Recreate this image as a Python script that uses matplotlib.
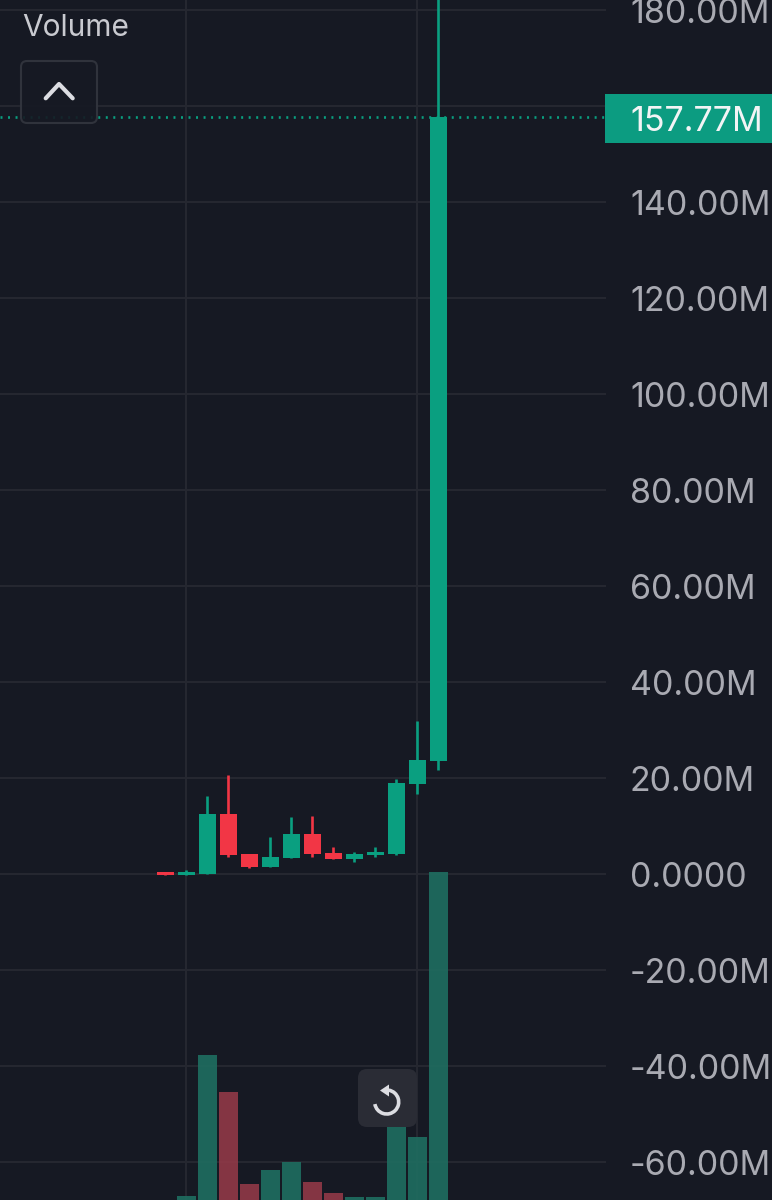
import numpy as np
import matplotlib
matplotlib.use('Agg')
import matplotlib.pyplot as plt
from matplotlib.patches import FancyBboxPatch, Rectangle, Arc, Polygon

plt.rcParams['font.family'] = ['Inter', 'DejaVu Sans']

# Velas (millones)
opens = [0.35, -0.15, 0.0, 12.5, 4.2, 1.5, 3.4, 8.3, 4.4, 3.05, 3.95, 4.2, 18.8, 23.5]
closes = [-0.15, 0.4, 12.5, 4.0, 1.5, 3.5, 8.3, 4.2, 3.0, 4.2, 4.6, 19.0, 23.7, 157.77]
highs = [0.35, 0.7, 16.3, 20.6, 4.2, 7.6, 11.8, 12.0, 5.6, 4.5, 5.6, 19.8, 31.8, 200.0]
lows = [-0.15, -0.15, 0.0, 3.6, 1.3, 1.5, 3.4, 3.5, 3.0, 2.5, 3.5, 3.9, 16.7, 21.6]

# Volumen (unidades relativas, la base queda fuera de la imagen)
volumes = [0.5, 2.5, 45.0, 33.8, 5.9, 10.3, 12.7, 6.6, 3.2, 2.2, 2.2, 30.0, 20.2, 100.0]

tick_values = [180, 140, 120, 100, 80, 60, 40, 20, 0, -20, -40, -60]
tick_labels = ['180.00M', '140.00M', '120.00M', '100.00M', '80.00M', '60.00M', '40.00M',
               '20.00M', '0.0000', '-20.00M', '-40.00M', '-60.00M']
grid_values = [180, 160, 140, 120, 100, 80, 60, 40, 20, 0, -20, -40, -60]
vgrid_index = [1, 12]
last_price = 157.77

bg = '#161923'
grid_col = '#262831'
green = '#0a9f80'
red = '#f23645'
vol_green = '#1f7062'
vol_red = '#943a48'
label_col = '#a9aab2'
label_size = 24.5

fig = plt.figure(figsize=(7.72, 12), dpi=100, facecolor=bg)
ax = fig.add_axes([0, 0, 1, 1], facecolor=bg)
ax.set_xlim(-7.871, 28.89)
ax.set_ylim(-67.95, 182.05)
ax.axis('off')

x = np.arange(len(opens))
colors = [green if c >= o else red for o, c in zip(opens, closes)]

# Rejilla
trans = ax.get_yaxis_transform()
for v in grid_values:
    ax.plot([0, 605 / 772], [v, v], transform=trans, color=grid_col, lw=1.4, zorder=1)
for i in vgrid_index:
    ax.axvline(i, color=grid_col, lw=1.4, zorder=1)

# Línea de último precio
ax.plot([0, 605 / 772], [last_price, last_price], transform=trans, color=green, lw=1.9,
        linestyle=(0, (0.75, 2.1)), zorder=2)

# Velas
ax.vlines(x, lows, highs, color=colors, lw=1.9, zorder=3)
ax.bar(x, np.abs(np.array(closes) - np.array(opens)), bottom=np.minimum(opens, closes),
       width=0.824, color=colors, zorder=4)

# Volumen en eje propio
ax2 = ax.twinx()
ax2.set_position([0, 0, 1, 1])
ax2.set_ylim(1.2, 362.6)
ax2.axis('off')
vol_colors = [vol_green if c >= o else vol_red for o, c in zip(opens, closes)]
ax2.bar(x, volumes, width=0.905, color=vol_colors, alpha=0.88, zorder=2)

# Etiquetas del eje de precios
for v, lab in zip(tick_values, tick_labels):
    ax.text(630 / 772, v - 0.1, lab, transform=trans, color=label_col, fontsize=label_size,
            va='center_baseline', ha='left', zorder=6)

# Capa en píxeles para los controles
ui = fig.add_axes([0, 0, 1, 1], facecolor='none')
ui.set_xlim(0, 772)
ui.set_ylim(1200, 0)
ui.axis('off')

ui.add_patch(Rectangle((605, 93.5), 167, 49.5, color='#0c9c81', lw=0))
ui.text(630, 118.5, '157.77M', color='#f2f4f5', fontsize=label_size, va='center_baseline', ha='left')
ui.text(22, 24.5, 'Volume', color='#c9cad0', fontsize=21.5, va='center_baseline', ha='left')

ui.add_patch(FancyBboxPatch((25, 65), 68, 54, boxstyle='round,pad=4,rounding_size=6',
                            fc=bg, ec='#33363f', lw=1.5, alpha=0.9))
ui.plot([45.7, 59, 72.7], [98.3, 84, 98.3], color='#dcdde2', lw=3, solid_capstyle='round',
        solid_joinstyle='round')

ui.add_patch(FancyBboxPatch((366, 1077), 43, 42, boxstyle='round,pad=8,rounding_size=9',
                            fc='#2a2c35', ec='none'))
ui.add_patch(Arc((386.7, 1102), 24, 24, theta1=-80, theta2=170, color='#dcdde2', lw=2.6))
ui.add_patch(Polygon([[380, 1090.5], [389, 1084.5], [389, 1096.5]], closed=True, color='#dcdde2', lw=0))

fig.savefig('out.png', dpi=100, facecolor=bg)
